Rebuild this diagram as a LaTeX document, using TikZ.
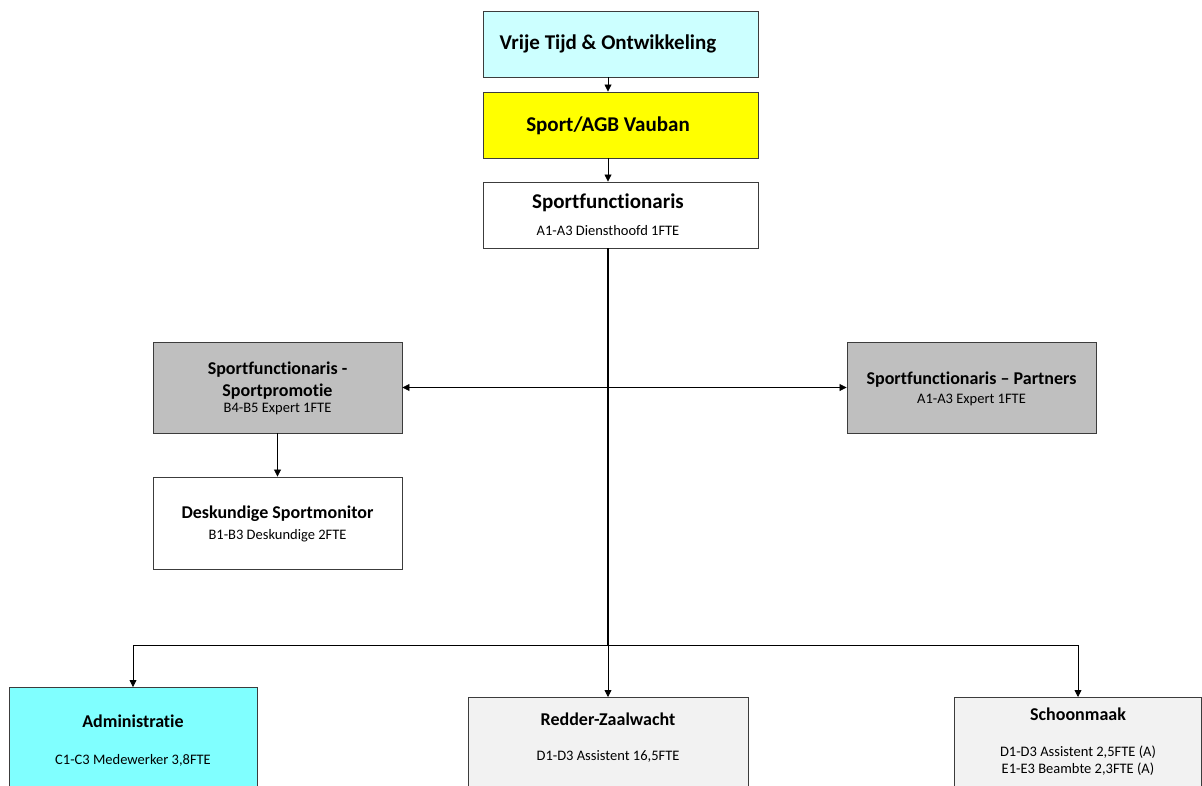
\documentclass[tikz,border=0pt]{standalone}
\usepackage{fontspec}
\setmainfont{Carlito}[RawFeature=-liga]
\usetikzlibrary{arrows.meta}
\definecolor{cyanlt}{RGB}{204,255,255}
\definecolor{cyanmid}{RGB}{128,255,255}
\definecolor{yel}{RGB}{255,255,0}
\definecolor{graymid}{RGB}{191,191,191}
\definecolor{graylt}{RGB}{242,242,242}
\definecolor{edge}{RGB}{60,60,60}
\begin{document}
\begin{tikzpicture}[x=1pt,y=-1pt,
  box/.style={draw=edge, line width=0.9pt, rectangle, inner sep=0pt},
  conn/.style={draw=black, line width=0.8pt, -{Triangle[length=7pt,width=7pt]}},
  bothconn/.style={draw=black, line width=0.8pt, {Triangle[length=7pt,width=7pt]}-{Triangle[length=7pt,width=7pt]}},
  plainline/.style={draw=black, line width=0.8pt},
  trunk/.style={draw=black, line width=1.8pt},
  bigtitle/.style={font=\fontsize{21}{25}\selectfont\bfseries},
  titletxt/.style={font=\fontsize{18}{22}\selectfont\bfseries},
  subtxt/.style={font=\fontsize{14.5}{17}\selectfont}]
\useasboundingbox (0,0) rectangle (1202,785);

% top boxes
\node[box, fill=cyanlt, minimum width=275pt, minimum height=66pt] (vt) at (620.5,44) {};
\node[bigtitle] (vtt) at (608,44) {Vrije Tijd \& Ontwikkeling};
\node[box, fill=yel, minimum width=275pt, minimum height=66pt] (sa) at (620.5,125) {};
\node[bigtitle] (sat) at (608,126) {Sport/AGB Vauban};
\node[box, fill=white, minimum width=275pt, minimum height=66pt] (sf) at (620.5,215) {};
\node[bigtitle] (sft) at (608,203) {Sportfunctionaris};
\node[subtxt] (sfs) at (608,231) {A1-A3 Diensthoofd 1FTE};

% middle boxes
\node[box, fill=graymid, minimum width=249pt, minimum height=91pt] (lg) at (277.5,387.5) {};
\node[titletxt, align=center] (lgt) at (277.5,381) {Sportfunctionaris -\\Sportpromotie};
\node[subtxt] (lgs) at (277.5,409) {B4-B5 Expert 1FTE};

\node[box, fill=graymid, minimum width=249pt, minimum height=91pt] (rg) at (971.5,387.5) {};
\node[titletxt] (rgt) at (971.5,380) {Sportfunctionaris – Partners};
\node[subtxt] (rgs) at (971.5,400) {A1-A3 Expert 1FTE};

\node[box, fill=white, minimum width=249pt, minimum height=92pt] (dk) at (277.5,523) {};
\node[titletxt] (dkt) at (277.5,514) {Deskundige Sportmonitor};
\node[subtxt] (dks) at (277.5,536) {B1-B3 Deskundige 2FTE};

% bottom boxes
\node[box, fill=cyanmid, minimum width=248pt, minimum height=120pt, anchor=north] (adm) at (133,687) {};
\node[titletxt] (admt) at (133,721) {Administratie};
\node[subtxt] (adms) at (133,760) {C1-C3 Medewerker 3,8FTE};

\node[box, fill=graylt, minimum width=280pt, minimum height=110pt, anchor=north] (rz) at (608,697) {};
\node[titletxt] (rzt) at (608,719) {Redder-Zaalwacht};
\node[subtxt] (rzs) at (608,756) {D1-D3 Assistent 16,5FTE};

\node[box, fill=graylt, minimum width=247pt, minimum height=110pt, anchor=north] (sch) at (1078,697) {};
\node[titletxt] (scht) at (1078,714) {Schoonmaak};
\node[subtxt, align=center] (schs) at (1078,761) {D1-D3 Assistent 2,5FTE (A)\\E1-E3 Beambte 2,3FTE (A)};

% connectors
\coordinate (j) at (608,645);
\coordinate (jl) at (133,645);
\coordinate (jr) at (1078,645);
\draw[conn] ([xshift=-12.5pt]vt.south) -- ([xshift=-12.5pt]sa.north);
\draw[conn] ([xshift=-12.5pt]sa.south) -- ([xshift=-12.5pt]sf.north);
\draw[trunk] ([xshift=-12.5pt]sf.south) -- (j);
\draw[bothconn] (lg.east) -- (rg.west);
\draw[conn] (lg.south) -- (dk.north);
\draw[plainline] (jl) -- (jr);
\draw[conn] (jl) -- (adm.north);
\draw[conn] (j) -- (rz.north);
\draw[conn] (jr) -- (sch.north);
\end{tikzpicture}
\end{document}
